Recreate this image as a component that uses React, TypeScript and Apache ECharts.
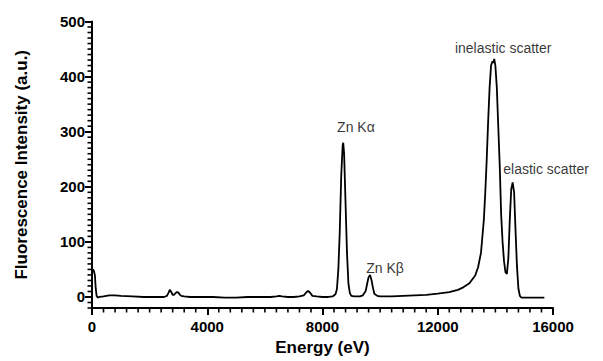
import React, { useEffect, useRef } from "react";
import * as echarts from "echarts";

const energy = [
  0, 30, 60, 100, 130, 160, 200, 260, 400, 600, 800, 1000, 1400, 1800, 2200, 2500, 2600, 2650, 2700, 2750,
  2800, 2850, 2900, 2950, 3000, 3050, 3100, 3200, 3400, 3800, 4200, 4600, 5000, 5400, 5800, 6200, 6400, 6500,
  6600, 6800, 7000, 7200, 7350, 7450, 7500, 7550, 7650, 7800, 8000, 8200, 8350, 8450, 8500, 8550, 8600, 8650,
  8700, 8720, 8750, 8800, 8850, 8900, 8950, 9000, 9100, 9200, 9300, 9400, 9500, 9550, 9600, 9650, 9700, 9750,
  9800, 9900, 10000, 10400, 10800, 11200, 11600, 12000, 12400, 12700, 12900, 13100, 13300, 13400, 13500, 13600,
  13650, 13700, 13750, 13800, 13850, 13900, 13930, 13960, 14000, 14050, 14100, 14150, 14200, 14250, 14300,
  14350, 14400, 14450, 14500, 14550, 14600, 14650, 14700, 14750, 14800, 14850, 14900, 15000, 15300, 15700,
];
const intensity = [
  48, 50, 48, 40, 15, 2, -1, 0, 1, 3, 3, 2, 1, 0, 0, 0, 2, 7, 13, 9,
  4, 4, 7, 9, 8, 4, 2, 1, 0, 0, 0, -1, -1, 0, 0, 0, 1, 2,
  1, 0, 0, 1, 3, 9, 11, 9, 2, 1, 0, 0, 1, 5, 14, 50, 120, 220,
  275, 280, 260, 170, 80, 24, 7, 2, 1, 1, 1, 3, 11, 24, 36, 40, 31, 17,
  6, 2, 1, 1, 2, 3, 4, 6, 9, 13, 18, 25, 39, 54, 80, 140,
  190, 250, 320, 380, 420, 428, 425, 432, 420, 380, 310, 240, 150, 100, 65,
  45, 42, 70, 140, 195, 208, 190, 120, 55, 15, 2, -1, -1, -1, -1,
];

const annotationNames = ["Zn K\u03b1", "Zn K\u03b2", "inelastic scatter", "elastic scatter"];
const annotationEnergy = [9160, 10170, 14270, 15760];
const annotationIntensity = [308, 52, 452, 232];

const yMajorTicks = [0, 100, 200, 300, 400, 500];
const xMin = 0;
const xMax = 16000;
const xMajorStep = 4000;
const xMinorStep = 400;
const yMin = -20;
const yMax = 500;
const yMinorStep = 10;

export default function App() {
  const ref = useRef<HTMLDivElement>(null);
  useEffect(() => {
    if (!ref.current) return;
    const chart = echarts.init(ref.current, undefined, { renderer: "svg" });
    const font = "'Liberation Sans', Arial, sans-serif";

    const xMinorTicks: number[][] = [];
    for (let v = xMin; v <= xMax; v += xMinorStep) {
      if (v % xMajorStep !== 0) xMinorTicks.push([v, yMin]);
    }
    const yMinorTicks: number[][] = [];
    for (let v = yMin; v <= yMax; v += yMinorStep) {
      if (!yMajorTicks.includes(v)) yMinorTicks.push([xMin, v]);
    }

    const tickSeries = (data: number[][], horizontal: boolean) => ({
      type: "custom",
      coordinateSystem: "cartesian2d",
      silent: true,
      clip: false,
      data,
      renderItem: (_params: any, api: any) => {
        const p = api.coord([api.value(0), api.value(1)]);
        return {
          type: "line",
          shape: horizontal
            ? { x1: p[0] - 4.5, y1: p[1], x2: p[0], y2: p[1] }
            : { x1: p[0], y1: p[1], x2: p[0], y2: p[1] + 4.5 },
          style: { stroke: "#000", lineWidth: 1.6 },
        };
      },
      z: 2,
    });

    chart.setOption({
      animation: false,
      backgroundColor: "#ffffff",
      grid: { left: 92, right: 50, top: 21.5, bottom: 51, containLabel: false },
      xAxis: {
        type: "value",
        min: xMin,
        max: xMax,
        interval: xMajorStep,
        position: "bottom",
        name: "Energy (eV)",
        nameLocation: "middle",
        nameGap: 31,
        nameTextStyle: { fontFamily: font, fontWeight: "bold", fontSize: 17, color: "#000" },
        axisLine: { show: true, onZero: false, lineStyle: { color: "#000", width: 2 } },
        axisTick: { show: true, length: 7, lineStyle: { color: "#000", width: 2 } },
        axisLabel: {
          fontFamily: font,
          fontWeight: "bold",
          fontSize: 15,
          color: "#000",
          margin: 11,
          formatter: (v: number) => String(v),
        },
        splitLine: { show: false },
      },
      yAxis: {
        type: "value",
        min: yMin,
        max: yMax,
        position: "left",
        name: "Fluorescence Intensity (a.u.)",
        nameLocation: "middle",
        nameGap: 62,
        nameTextStyle: { fontFamily: font, fontWeight: "bold", fontSize: 17, color: "#000" },
        axisLine: { show: true, onZero: false, lineStyle: { color: "#000", width: 2 } },
        axisTick: { show: true, length: 7, customValues: yMajorTicks, lineStyle: { color: "#000", width: 2 } },
        axisLabel: {
          fontFamily: font,
          fontWeight: "bold",
          fontSize: 15,
          color: "#000",
          margin: 7,
          customValues: yMajorTicks,
        },
        splitLine: { show: false },
      },
      series: [
        {
          type: "line",
          data: energy.map((e, i) => [e, intensity[i]]),
          showSymbol: false,
          symbol: "none",
          lineStyle: { color: "#000", width: 1.8 },
          z: 3,
        },
        tickSeries(xMinorTicks, false),
        tickSeries(yMinorTicks, true),
        {
          type: "scatter",
          data: annotationEnergy.map((e, i) => ({ value: [e, annotationIntensity[i]], name: annotationNames[i] })),
          symbolSize: 1,
          itemStyle: { color: "rgba(0,0,0,0)" },
          silent: true,
          label: {
            show: true,
            position: "inside",
            formatter: (p: any) => p.name,
            fontFamily: font,
            fontSize: 14,
            color: "#000",
          },
          z: 4,
        },
      ],
    });
    return () => chart.dispose();
  }, []);
  return (
    <div
      ref={ref}
      style={{ position: "fixed", left: 0, top: 0, width: 603, height: 361 }}
    />
  );
}
